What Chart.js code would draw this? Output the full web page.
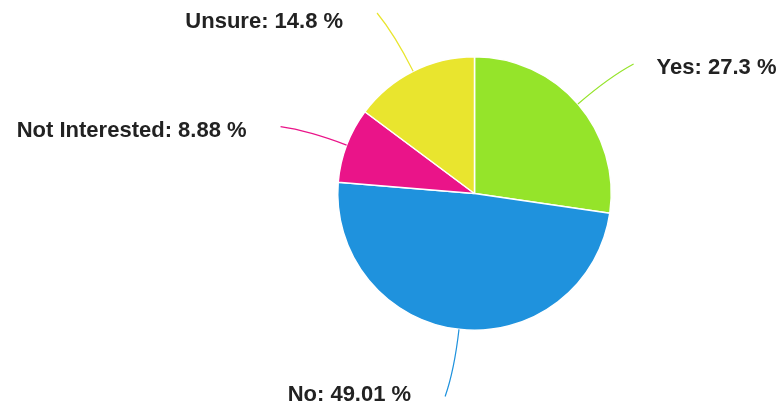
<!DOCTYPE html>
<html>
<head>
<meta charset="utf-8">
<script src="https://cdn.jsdelivr.net/npm/chart.js@4/dist/chart.umd.min.js"></script>
<style>
    html, body { margin: 0; padding: 0; background: #fff; }
    #wrap { width: 777px; height: 409px; }
</style>
</head>
<body>
<div id="wrap"><canvas id="survey-pie"></canvas></div>
<script>
// Survey answers

const answers = ["Yes", "No", "Not Interested", "Unsure"];
const shares = [27.3, 49.01, 8.88, 14.8];
const sliceColors = ['#95e42a', '#1f92dd', '#ea1489', '#e9e52e'];

// Leader lines + "Label: value %" text outside each slice

const outsideLabels = {
    id: 'outsideLabels',
    afterDatasetsDraw(chart) {
        const ctx = chart.ctx;
        const meta = chart.getDatasetMeta(0);
        ctx.save();
        ctx.font = 'bold 22px "Liberation Sans", Arial, sans-serif';
        ctx.fillStyle = '#222';
        ctx.textBaseline = 'middle';
        meta.data.forEach((arc, i) => {
            const p = arc.getProps(['x', 'y', 'startAngle', 'endAngle', 'outerRadius'], true);
            const mid = (p.startAngle + p.endAngle) / 2;
            const r = p.outerRadius;
            // bend the end of the line a little towards the horizontal
            const bend = -Math.sign(Math.sin(mid) * Math.cos(mid)) * 0.03;
            const sx = p.x + Math.cos(mid) * r;
            const sy = p.y + Math.sin(mid) * r;
            const cx = p.x + Math.cos(mid) * r * 1.3;
            const cy = p.y + Math.sin(mid) * r * 1.3;
            const ex = p.x + Math.cos(mid + bend) * r * 1.5;
            const ey = p.y + Math.sin(mid + bend) * r * 1.5;

            ctx.strokeStyle = sliceColors[i];
            ctx.lineWidth = 1.2;
            ctx.beginPath();
            ctx.moveTo(sx, sy);
            ctx.quadraticCurveTo(cx, cy, ex, ey);
            ctx.stroke();

            const text = `${answers[i]}: ${shares[i]} %`;
            const ty = Math.min(Math.max(ey + 4, 22), chart.height - 14);
            if (ex >= p.x) {
                ctx.textAlign = 'left';
                ctx.fillText(text, ex + 23, ty);
            } else {
                ctx.textAlign = 'right';
                ctx.fillText(text, ex - 34, ty);
            }
        });
        ctx.restore();
    }
};

const pieCanvas = document.getElementById("survey-pie");

const pieData = {
    labels: answers,
    datasets: [{
        data: shares,
        backgroundColor: sliceColors,
        borderColor: '#fff',
        borderWidth: 1.5
    }]
};

const pieOptions = {
    responsive: true,
    maintainAspectRatio: false,
    animation: false,
    layout: {
        padding: { top: 56, bottom: 78, left: 337, right: 165 }
    },
    plugins: {
        legend: { display: false },
        tooltip: { enabled: false }
    }
};

let pieChart = new Chart(pieCanvas, {
    type: 'pie',
    data: pieData,
    options: pieOptions,
    plugins: [outsideLabels]
});
</script>
</body>
</html>
